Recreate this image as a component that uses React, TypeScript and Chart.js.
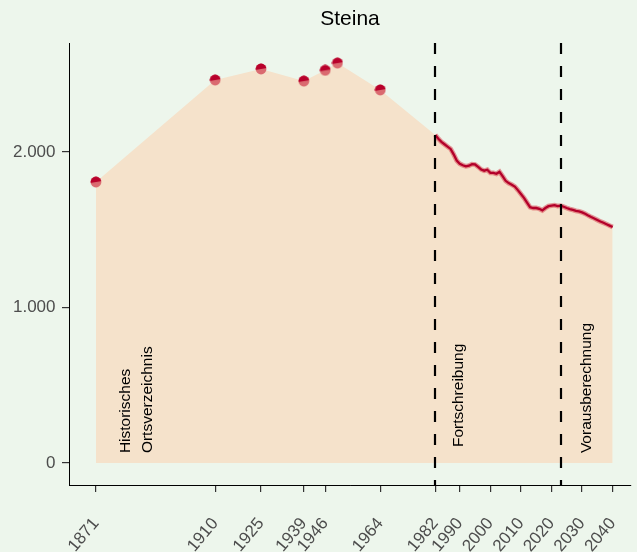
import React, { useEffect, useRef } from 'react';
import { Chart, registerables } from 'chart.js';

Chart.register(...registerables);

// ---------- data ----------
const histYears = [1871, 1910, 1925, 1939, 1946, 1950, 1964];
const histValues = [1807, 2463, 2534, 2456, 2525, 2572, 2399];

const contYears = [
  1982, 1983, 1984, 1985, 1986, 1987, 1988, 1989, 1990, 1991, 1992, 1993, 1994, 1995, 1996, 1997,
  1998, 1999, 2000, 2001, 2002, 2003, 2004, 2005, 2006, 2007, 2008, 2009, 2010, 2011, 2012, 2013,
  2014, 2015, 2016, 2017, 2018, 2019, 2020, 2021, 2022, 2023, 2024, 2025, 2026, 2027, 2028, 2029,
  2030, 2031, 2032, 2033, 2034, 2035, 2036, 2037, 2038, 2039, 2040,
];
const contValues = [
  2109, 2085, 2065, 2050, 2035, 2020, 1985, 1945, 1925, 1915, 1908, 1912, 1922, 1920, 1905, 1888,
  1880, 1886, 1866, 1866, 1860, 1873, 1845, 1815, 1800, 1790, 1778, 1755, 1730, 1705, 1675, 1645,
  1640, 1640, 1635, 1625, 1640, 1652, 1655, 1658, 1652, 1655, 1648, 1640, 1633, 1628, 1622, 1618,
  1612, 1603, 1592, 1582, 1573, 1563, 1553, 1545, 1536, 1527, 1518,
];

const xTickYears = [1871, 1910, 1925, 1939, 1946, 1964, 1982, 1990, 2000, 2010, 2020, 2030, 2040];
const yTickValues = [0, 1000, 2000];
const dividerYears = [1982, 2023];

const titleText = 'Steina';
const noteTexts = ['Historisches', 'Ortsverzeichnis', 'Fortschreibung', 'Vorausberechnung'];
const noteYears = [1880.9, 1888.1, 1989.7, 2031.5];
const noteStartValues = [64, 64, 103, 64];

// ---------- styles ----------
const BG = '#EDF6EC';
const FILL = '#F5E2CB';
const RED = '#B3002A';
const FONT = "'Liberation Sans', Arial, Helvetica, sans-serif";

const fmtThousands = (v: number) => String(v).replace(/\B(?=(\d{3})+(?!\d))/g, '.');

function makeDot(): HTMLCanvasElement {
  const c = document.createElement('canvas');
  c.width = 12;
  c.height = 12;
  const g = c.getContext('2d')!;
  g.beginPath();
  g.arc(6, 6, 5.4, 0, Math.PI * 2);
  g.fillStyle = '#DA6A70';
  g.fill();
  g.save();
  g.clip();
  g.beginPath();
  g.moveTo(0, 0);
  g.lineTo(12, 0);
  g.lineTo(12, 5);
  g.lineTo(0, 7);
  g.closePath();
  g.fillStyle = '#B8002B';
  g.fill();
  g.restore();
  return c;
}

const bgPlugin = {
  id: 'bgPlugin',
  beforeDraw(chart: any) {
    const ctx = chart.ctx;
    ctx.save();
    ctx.fillStyle = BG;
    ctx.fillRect(0, 0, chart.width, chart.height);
    ctx.restore();
  },
};

const overlayPlugin = {
  id: 'overlayPlugin',
  afterDatasetsDraw(chart: any) {
    const ctx = chart.ctx;
    const xs = chart.scales.x;
    const ys = chart.scales.y;
    const area = chart.chartArea;
    ctx.save();
    // annotation texts
    ctx.fillStyle = '#000';
    ctx.font = `15.5px ${FONT}`;
    ctx.textAlign = 'left';
    ctx.textBaseline = 'middle';
    noteTexts.forEach((t, i) => {
      const px = xs.getPixelForValue(noteYears[i]);
      const py = ys.getPixelForValue(noteStartValues[i]);
      ctx.save();
      ctx.translate(px, py);
      ctx.rotate(-Math.PI / 2);
      ctx.fillText(t, 0, 0);
      ctx.restore();
    });
    // dashed dividers
    ctx.strokeStyle = '#000';
    ctx.lineWidth = 2.2;
    ctx.setLineDash([11, 12]);
    dividerYears.forEach((yr) => {
      const px = Math.round(xs.getPixelForValue(yr));
      ctx.beginPath();
      ctx.moveTo(px, area.top);
      ctx.lineTo(px, area.bottom);
      ctx.stroke();
    });
    ctx.restore();
  },
};

export default function App() {
  const ref = useRef<HTMLCanvasElement | null>(null);

  useEffect(() => {
    if (!ref.current) return;
    const histPts = histYears.map((x, i) => ({ x, y: histValues[i] }));
    const contPts = contYears.map((x, i) => ({ x, y: contValues[i] }));
    const chart = new Chart(ref.current, {
      type: 'line',
      data: {
        datasets: [
          {
            label: 'hist',
            data: histPts,
            showLine: false,
            pointStyle: makeDot() as any,
            pointRadius: 6,
            pointBackgroundColor: '#C1102F',
            pointBorderWidth: 0,
            order: 0,
          },
          {
            label: 'line',
            data: contPts,
            borderColor: RED,
            borderWidth: 2.3,
            pointRadius: 0,
            fill: false,
            tension: 0,
            order: 1,
          },
          {
            label: 'halo',
            data: contPts,
            borderColor: 'rgba(215, 70, 80, 0.55)',
            borderWidth: 4.8,
            pointRadius: 0,
            fill: false,
            tension: 0,
            order: 2,
          },
          {
            label: 'area',
            data: [...histPts, ...contPts],
            backgroundColor: FILL,
            borderWidth: 0,
            borderColor: 'rgba(0,0,0,0)',
            pointRadius: 0,
            fill: 'origin',
            tension: 0,
            order: 3,
          },
        ],
      },
      options: {
        responsive: false,
        animation: false,
        devicePixelRatio: 1,
        layout: { padding: 0 },
        plugins: {
          legend: { display: false },
          tooltip: { enabled: false },
          title: {
            display: true,
            text: titleText,
            fullSize: false,
            color: '#000',
            font: { size: 21, weight: 'normal', family: FONT, lineHeight: 1.2 },
            padding: { top: 6.6, bottom: 11.2 },
          },
        },
        scales: {
          x: {
            type: 'linear',
            min: 1862.2,
            max: 2046,
            afterBuildTicks: (s: any) => {
              s.ticks = xTickYears.map((v) => ({ value: v }));
            },
            afterFit: (s: any) => {
              s.height = 67;
              s.paddingLeft = 0;
              s.paddingRight = 0;
            },
            ticks: {
              autoSkip: false,
              maxRotation: 50,
              minRotation: 50,
              color: '#4D4D4D',
              font: { size: 17, family: FONT },
              padding: 22,
              callback: (v: any) => String(v),
            },
            grid: {
              display: true,
              drawOnChartArea: false,
              drawTicks: true,
              tickLength: 7,
              color: '#333',
              lineWidth: 1.2,
            },
            border: { display: true, color: '#000', width: 1 },
          },
          y: {
            type: 'linear',
            min: -141,
            max: 2701,
            afterBuildTicks: (s: any) => {
              s.ticks = yTickValues.map((v) => ({ value: v }));
            },
            afterFit: (s: any) => {
              s.width = 69;
              s.paddingTop = 0;
              s.paddingBottom = 0;
            },
            ticks: {
              color: '#4D4D4D',
              font: { size: 17, family: FONT },
              padding: 6.5,
              callback: (v: any) => fmtThousands(Number(v)),
            },
            grid: {
              display: true,
              drawOnChartArea: false,
              drawTicks: true,
              tickLength: 7,
              color: '#333',
              lineWidth: 1.2,
            },
            border: { display: true, color: '#000', width: 1 },
          },
        },
      },
      plugins: [bgPlugin, overlayPlugin],
    });
    return () => chart.destroy();
  }, []);

  return (
    <div style={{ position: 'fixed', left: 0, top: 0, width: 637, height: 552, background: BG }}>
      <canvas ref={ref} width={637} height={552} style={{ display: 'block' }} />
    </div>
  );
}
